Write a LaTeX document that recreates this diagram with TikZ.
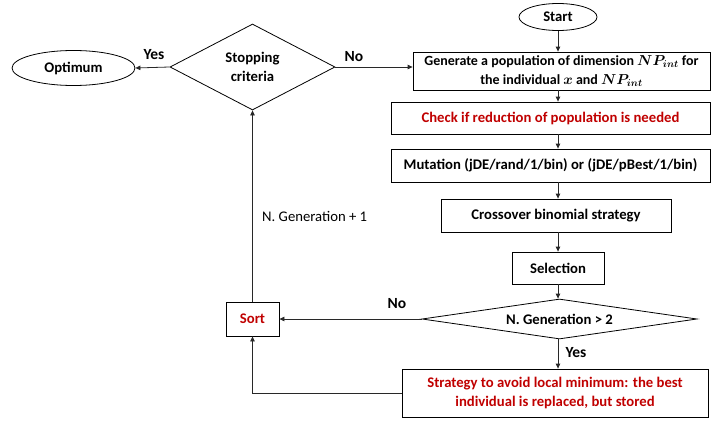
\documentclass[tikz,border=0pt]{standalone}
\usepackage{fontspec}
\setmainfont{Carlito}
\usepackage{bm}
\usetikzlibrary{shapes.geometric,arrows.meta}
\definecolor{darkred}{RGB}{192,0,0}
\definecolor{linegray}{RGB}{40,40,40}
\newcommand{\basefont}{\fontsize{14.7}{19}\selectfont}
\tikzset{
  box/.style={draw=black, line width=0.8pt, inner sep=0pt, align=center, font=\basefont\bfseries},
  oval/.style={draw=black, line width=0.8pt, ellipse, inner sep=0pt, font=\basefont\bfseries},
  decision/.style={draw=black, line width=0.8pt, diamond, inner sep=0pt, align=center, font=\basefont\bfseries},
  flow/.style={draw=linegray, line width=0.8pt, -{Triangle[length=5pt,width=4.5pt]}},
  lbl/.style={font=\fontsize{15.5}{19}\selectfont\bfseries, inner sep=0pt}
}
\begin{document}
\begin{tikzpicture}[x=1pt, y=-1pt, font=\basefont]
\useasboundingbox (0,0) rectangle (712,423);

% vertical spine of the main sequence
\coordinate (spine) at (558,0);

\node[oval, minimum width=78pt, minimum height=27pt] (start) at (558,17) {Start};
\node[box, minimum width=297pt, minimum height=38pt, font=\fontsize{14}{19}\selectfont\bfseries] (gen) at (561.5,71)
  {Generate a population of dimension $\bm{NP_{int}}$ for\\the individual $\bm{x}$ and $\bm{NP_{int}}$};
\node[box, minimum width=319pt, minimum height=32pt, text=darkred] (check) at (550.5,118)
  {Check if reduction of population is needed};
\node[box, minimum width=319pt, minimum height=33pt] (mut) at (550.5,165.5)
  {Mutation (jDE/rand/1/bin) or (jDE/pBest/1/bin)};
\node[box, minimum width=230pt, minimum height=33pt] (cross) at (556,215.5)
  {Crossover binomial strategy};
\node[box, minimum width=92pt, minimum height=32pt] (sel) at (558,268)
  {Selection};
\node[decision, minimum width=275pt, minimum height=40pt, aspect=6.9] (ngen) at (559.5,319)
  {N. Generation > 2};
\node[box, minimum width=306pt, minimum height=48pt, text=darkred] (avoid) at (555,393)
  {Strategy to avoid local minimum: the best\\individual is replaced, but stored};
\node[box, minimum width=53pt, minimum height=34pt, text=darkred] (sort) at (252.5,319)
  {Sort};
\node[decision, minimum width=165pt, minimum height=86pt, aspect=1.92] (stop) at (252.5,67)
  {Stopping\\criteria};
\node[oval, minimum width=123pt, minimum height=35pt] (opt) at (73.5,68)
  {Optimum};

% main sequence
\draw[flow] (spine |- start.south) -- (spine |- gen.north);
\draw[flow] (spine |- gen.south) -- (spine |- check.north);
\draw[flow] (spine |- check.south) -- (spine |- mut.north);
\draw[flow] (spine |- mut.south) -- (spine |- cross.north);
\draw[flow] (spine |- cross.south) -- (spine |- sel.north);
\draw[flow] (spine |- sel.south) -- (spine |- ngen.north);
\draw[flow] (spine |- ngen.south) -- (spine |- avoid.north);

% branches and loop back
\draw[flow] (ngen.west) -- (sort.east);
\draw[flow] (avoid.west) -| (sort.south);
\draw[flow] (sort.north) -- (stop.south);
\draw[flow] (stop.east) -- (stop.east -| gen.west);
\draw[flow] (stop.west) -- (opt.east);

% labels
\node[lbl] (yes1) at (154,55) {Yes};
\node[lbl] (no1) at (354,57) {No};
\node[lbl] (no2) at (397,304) {No};
\node[lbl] (yes2) at (576,353) {Yes};
\node[anchor=west, inner sep=0pt] (incr) at (262,216) {N. Generation + 1};
\end{tikzpicture}
\end{document}
